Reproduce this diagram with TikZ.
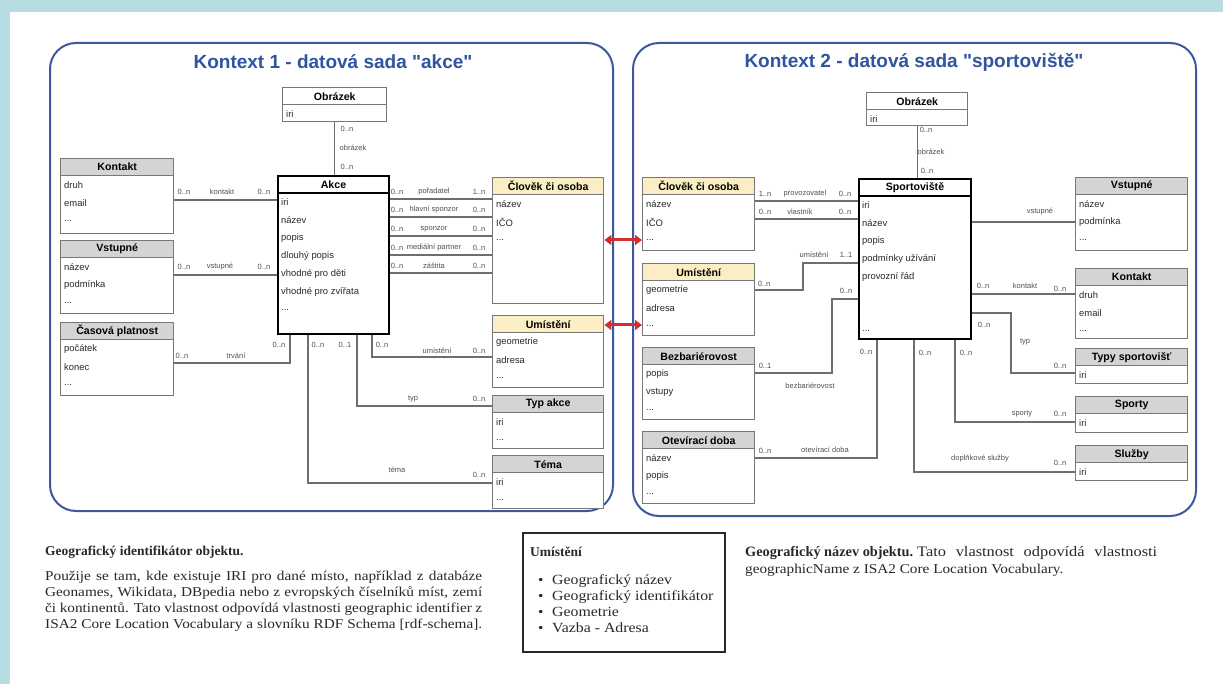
\documentclass[tikz,border=0pt]{standalone}
\usepackage{fontspec}
\setmainfont{Liberation Serif}
\newfontfamily\sansf{Liberation Sans}
\newfontfamily\notefont[FakeStretch=1.13]{Liberation Serif}
\usetikzlibrary{arrows.meta}

\definecolor{pagebg}{RGB}{183,220,226}
\definecolor{panelline}{RGB}{62,88,160}
\definecolor{titleblue}{RGB}{47,84,160}
\definecolor{hdrgray}{RGB}{212,212,212}
\definecolor{hdryellow}{RGB}{252,238,196}
\definecolor{boxline}{RGB}{120,120,120}
\definecolor{linkline}{RGB}{110,110,110}
\definecolor{lblcol}{RGB}{80,80,80}
\definecolor{arrowred}{RGB}{210,45,50}
\definecolor{textcol}{RGB}{40,40,40}

\newcounter{lblno}
\newcommand\rowdots{...}
% entity box: [style]{name}{x}{y}{width}{height}{header fill}{title}{rows}
\newcommand\entity[9][]{%
  \node[entbox, #1, minimum width=#5pt, minimum height=#6pt] (#2) at (#3,#4) {};
  \node[enthead, #1, fill=#7, minimum width=#5pt] (#2-h) at (#3,#4) {#8};
  \foreach \t [count=\i] in {#9}
    \node[entrow] (#2-\i) at ({#3+4},{#4+27+(\i-1)*18}) {\t};
}
% multiplicity / role label
\newcommand\lab[2]{\stepcounter{lblno}\node[lbltext] (lab\arabic{lblno}) at (#1) {#2};}
% one line of a justified paragraph
\newcommand\jline[2]{\makebox[#1][s]{#2}}

\tikzset{
  entbox/.style={draw=boxline, line width=1.4pt, fill=white, anchor=north west, inner sep=0pt},
  enthead/.style={draw=boxline, line width=1.4pt, anchor=north west, inner sep=0pt,
    minimum height=17pt, font=\sansf\bfseries\fontsize{10.6}{12}\selectfont},
  strong/.style={draw=black, line width=2pt},
  entrow/.style={anchor=west, inner sep=0pt, font=\sansf\fontsize{9.4}{11}\selectfont, text=textcol},
  lbltext/.style={inner sep=0pt, font=\sansf\fontsize{7.5}{9}\selectfont, text=lblcol},
  link/.style={draw=linkline, line width=1.3pt},
  panel/.style={draw=panelline, line width=2pt, rounded corners=26pt, fill=white},
  paneltitle/.style={font=\sansf\bfseries\fontsize{19}{22}\selectfont, text=titleblue},
  redarrow/.style={draw=arrowred, line width=3pt, {Triangle[length=7pt,width=10pt]}-{Triangle[length=7pt,width=10pt]}},
  para/.style={anchor=base west, inner sep=0pt, font=\notefont\fontsize{13.5}{16}\selectfont, text=textcol},
  parahead/.style={anchor=base west, inner sep=0pt, font=\bfseries\fontsize{13.5}{16}\selectfont, text=textcol},
}

\begin{document}
\begin{tikzpicture}[x=1pt, y=-1pt]
\useasboundingbox (0,0) rectangle (1223,684);
\fill[pagebg] (0,0) rectangle (1223,684);
\fill[white] (10,12) rectangle (1223,684);

% ---------- context panels ----------
\draw[panel] (50,43) rectangle (613,511);
\draw[panel] (633,43) rectangle (1196,516);
\node[paneltitle] (title1) at (333,62) {Kontext 1 - datová sada "akce"};
\node[paneltitle] (title2) at (914,62) {Kontext 2 - datová sada "sportoviště"};

% ---------- context 1 entities ----------
\entity{obr1}{282}{87}{104}{34}{white}{Obrázek}{iri}
\entity{kontakt1}{60}{158}{113}{75}{hdrgray}{Kontakt}{druh,email,\rowdots}
\entity{vstupne1}{60}{240}{113}{73}{hdrgray}{Vstupné}{název,podmínka,\rowdots}
\entity{cas1}{60}{322}{113}{73}{hdrgray}{Časová platnost}{počátek,konec,\rowdots}
\entity[strong]{akce}{277}{175}{111}{158}{white}{Akce}{iri,název,popis,dlouhý popis,vhodné pro děti,vhodné pro zvířata,\rowdots}
\entity{osoba1}{492}{177}{111}{126}{hdryellow}{Člověk či osoba}{název,IČO,\rowdots}
\entity{umist1}{492}{315}{111}{72}{hdryellow}{Umístění}{geometrie,adresa,\rowdots}
\entity{typakce}{492}{395}{111}{53}{hdrgray}{Typ akce}{iri,\rowdots}
\entity{tema}{492}{455}{111}{53}{hdrgray}{Téma}{iri,\rowdots}

% ---------- context 1 relations ----------
\draw[link] (obr1.south) -- (obr1.south |- akce.north);
\lab{347,129}{0..n}\lab{353,148}{obrázek}\lab{347,167}{0..n}

\draw[link] (kontakt1.east |- 0,200) -- (akce.west |- 0,200);
\lab{184,192}{0..n}\lab{222,192}{kontakt}\lab{264,192}{0..n}

\draw[link] (vstupne1.east |- 0,275) -- (akce.west |- 0,275);
\lab{184,267}{0..n}\lab{220,267}{vstupné}\lab{264,267}{0..n}

\draw[link] (cas1.east |- 0,363) -| ([xshift=13pt]akce.south west);
\lab{182,356}{0..n}\lab{236,356}{trvání}\lab{279,345}{0..n}

\draw[link] (akce.east |- 0,199) -- (osoba1.west |- 0,199);
\lab{397,192}{0..n}\lab{434,192}{pořadatel}\lab{479,192}{1..n}
\draw[link] (akce.east |- 0,217) -- (osoba1.west |- 0,217);
\lab{397,210}{0..n}\lab{434,210}{hlavní sponzor}\lab{479,210}{0..n}
\draw[link] (akce.east |- 0,236) -- (osoba1.west |- 0,236);
\lab{397,229}{0..n}\lab{434,229}{sponzor}\lab{479,229}{0..n}
\draw[link] (akce.east |- 0,255) -- (osoba1.west |- 0,255);
\lab{397,248}{0..n}\lab{434,248}{mediální partner}\lab{479,248}{0..n}
\draw[link] (akce.east |- 0,273) -- (osoba1.west |- 0,273);
\lab{397,266}{0..n}\lab{434,266}{záštita}\lab{479,266}{0..n}

\draw[link] ([xshift=95pt]akce.south west) |- (umist1.west |- 0,357);
\draw[link] ([xshift=80pt]akce.south west) |- (typakce.west |- 0,406);
\draw[link] ([xshift=31pt]akce.south west) |- (tema.west |- 0,483);
\lab{318,345}{0..n}\lab{345,345}{0..1}\lab{382,345}{0..n}
\lab{437,351}{umístění}\lab{479,351}{0..n}
\lab{413,399}{typ}\lab{479,399}{0..n}
\lab{397,470}{téma}\lab{479,475}{0..n}

% ---------- context 2 entities ----------
\entity{obr2}{866}{92}{101}{33}{white}{Obrázek}{iri}
\entity[strong]{sport}{858}{178}{112}{160}{white}{Sportoviště}{iri,název,popis,podmínky užívání,provozní řád,{},{},\rowdots}
\entity{osoba2}{642}{177}{112}{73}{hdryellow}{Člověk či osoba}{název,IČO,\rowdots}
\entity{umist2}{642}{263}{112}{72}{hdryellow}{Umístění}{geometrie,adresa,\rowdots}
\entity{bezb}{642}{347}{112}{72}{hdrgray}{Bezbariérovost}{popis,vstupy,\rowdots}
\entity{otev}{642}{431}{112}{72}{hdrgray}{Otevírací doba}{název,popis,\rowdots}
\entity{vstupne2}{1075}{177}{112}{73}{hdrgray}{Vstupné}{název,podmínka,\rowdots}
\entity{kontakt2}{1075}{268}{112}{70}{hdrgray}{Kontakt}{druh,email,\rowdots}
\entity{typy}{1075}{348}{112}{35}{hdrgray}{Typy sportovišť}{iri}
\entity{sporty}{1075}{396}{112}{36}{hdrgray}{Sporty}{iri}
\entity{sluzby}{1075}{445}{112}{35}{hdrgray}{Služby}{iri}

% ---------- context 2 relations ----------
\draw[link] (obr2.south) -- (obr2.south |- sport.north);
\lab{926,130}{0..n}\lab{931,152}{obrázek}\lab{927,171}{0..n}

\draw[link] (osoba2.east |- 0,201) -- (sport.west |- 0,201);
\lab{765,194}{1..n}\lab{805,194}{provozovatel}\lab{845,194}{0..n}
\draw[link] (osoba2.east |- 0,219) -- (sport.west |- 0,219);
\lab{765,212}{0..n}\lab{800,212}{vlastník}\lab{845,212}{0..n}

\draw[link] (umist2.east |- 0,290) -| (803,263) -- (sport.west |- 0,263);
\lab{764,284}{0..n}\lab{814,255}{umístění}\lab{846,255}{1..1}

\draw[link] (bezb.east |- 0,373) -| (832,299) -- (sport.west |- 0,299);
\lab{765,366}{0..1}\lab{846,291}{0..n}\lab{810,386}{bezbariérovost}

\draw[link] (otev.east |- 0,458) -| ([xshift=19pt]sport.south west);
\lab{765,451}{0..n}\lab{825,450}{otevírací doba}\lab{866,352}{0..n}

\draw[link] (sport.east |- 0,222) -- (vstupne2.west |- 0,222);
\lab{1040,212}{vstupné}

\draw[link] (sport.east |- 0,294) -- (kontakt2.west |- 0,294);
\lab{983,286}{0..n}\lab{1025,286}{kontakt}\lab{1060,289}{0..n}

\draw[link] (sport.east |- 0,313) -| (1011,373) -- (typy.west |- 0,373);
\lab{984,325}{0..n}\lab{1025,342}{typ}\lab{1060,366}{0..n}

\draw[link] ([xshift=97pt]sport.south west) |- (sporty.west |- 0,422);
\lab{966,353}{0..n}\lab{1022,414}{sporty}\lab{1060,414}{0..n}

\draw[link, line width=2pt] ([xshift=56pt]sport.south west) |- (sluzby.west |- 0,472);
\lab{925,353}{0..n}\lab{980,459}{doplňkové služby}\lab{1060,463}{0..n}

% ---------- links between the two contexts ----------
\draw[redarrow] (osoba1.east |- 0,240) -- (osoba2.west |- 0,240);
\draw[redarrow] (umist1.east |- 0,325) -- (umist2.west |- 0,325);

% ---------- notes below ----------
\node[parahead] (n1) at (45,555) {Geografický identifikátor objektu.};
\node[para] (n2) at (45,580) {\jline{437pt}{Použije se tam, kde existuje IRI pro dané místo, například z databáze}};
\node[para] (n3) at (45,596) {\jline{437pt}{Geonames, Wikidata, DBpedia nebo z evropských číselníků míst, zemí}};
\node[para] (n4) at (45,612) {\jline{437pt}{či kontinentů. Tato vlastnost odpovídá vlastnosti geographic identifier z}};
\node[para] (n5) at (45,628) {\jline{437pt}{ISA2 Core Location Vocabulary a slovníku RDF Schema [rdf-schema].}};

\node[draw=textcol, line width=1.5pt, anchor=north west, minimum width=202pt, minimum height=119pt, inner sep=0pt] (umbox) at (522,532) {};
\node[parahead] (u0) at (530,556) {Umístění};
\foreach \t/\yy [count=\i] in {Geografický název/584, Geografický identifikátor/600, Geometrie/616, Vazba - Adresa/632}{
  \node[para] (ub\i) at (538,\yy) {•};
  \node[para, font=\notefont\fontsize{14}{16}\selectfont] (ut\i) at (552,\yy) {\t};
}

\node[parahead, font=\bfseries\fontsize{14.3}{16}\selectfont] (r1) at (745,556) {Geografický název objektu.};
\node[para, font=\notefont\fontsize{14.5}{16}\selectfont] (r1b) at (917,556) {\jline{240pt}{Tato vlastnost odpovídá vlastnosti}};
\node[para] (r2) at (745,573) {geographicName z ISA2 Core Location Vocabulary.};
\end{tikzpicture}
\end{document}
